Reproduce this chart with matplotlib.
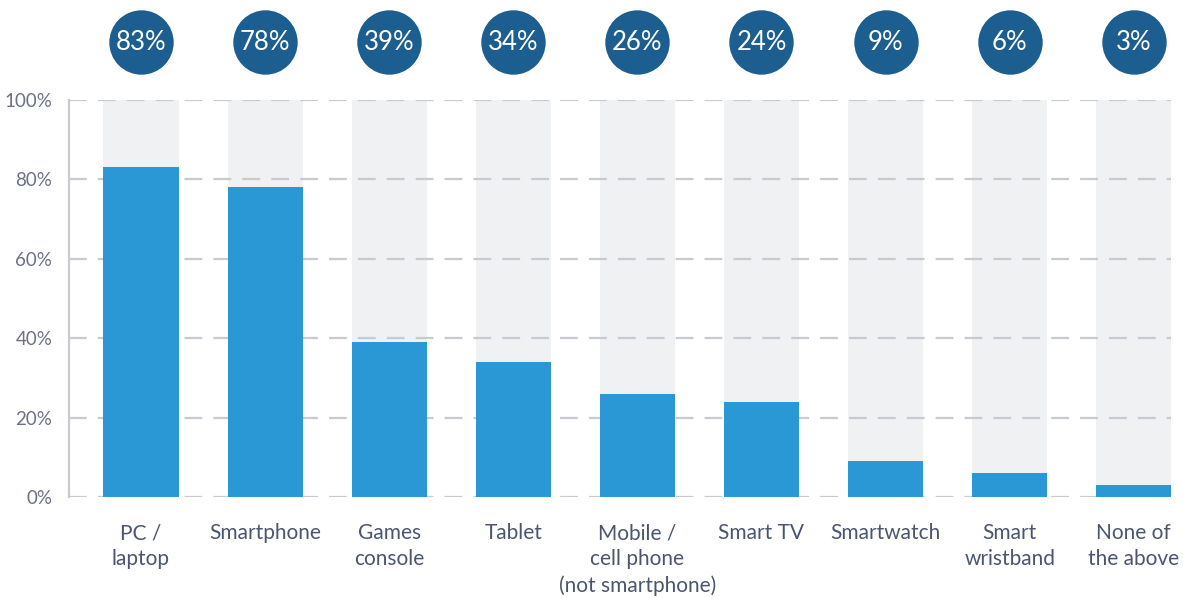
import matplotlib
matplotlib.use("Agg")
import matplotlib.pyplot as plt

# === 데이터 ===
categories = ["PC /\nlaptop", "Smartphone", "Games\nconsole", "Tablet",
              "Mobile /\ncell phone\n(not smartphone)", "Smart TV", "Smartwatch",
              "Smart\nwristband", "None of\nthe above"]
values = [83, 78, 39, 34, 26, 24, 9, 6, 3]
yticks = [0, 20, 40, 60, 80, 100]
ytick_labels = ["0%", "20%", "40%", "60%", "80%", "100%"]

plt.rcParams["font.family"] = ["Lato", "DejaVu Sans"]

fig = plt.figure(figsize=(11.83, 5.98), dpi=100)
ax = fig.add_axes([69 / 1183, 101 / 598, 1102 / 1183, 397 / 598])

x = list(range(len(values)))
w = 0.605
ax.bar(x, [100] * len(values), width=w, color="#f0f1f3", zorder=1)
ax.bar(x, values, width=w, color="#2998d5", zorder=3)

# 점선 그리드
for t in yticks:
    ax.axhline(t, color="#c9c9d1", lw=1.6, dashes=(8, 5), zorder=2)

# 상단 원형 배지
ax.scatter(x, [114.6] * len(values), s=2150, color="#1b5e8f", clip_on=False, zorder=4, linewidths=0)
for xi, v in zip(x, values):
    ax.text(xi, 114.6, f"{v}%", ha="center", va="center", color="white",
            fontsize=18.5, zorder=5, clip_on=False)

ax.set_xlim(-0.58, 8.30)
ax.set_ylim(0, 100)
ax.set_yticks(yticks)
ax.set_yticklabels(ytick_labels, fontsize=13.5, color="#6b7085")
ax.set_xticks(x)
ax.set_xticklabels(categories, fontsize=15, color="#4a5570", linespacing=1.38, va="top")
ax.tick_params(axis="both", length=0)
ax.tick_params(axis="y", pad=12)
ax.tick_params(axis="x", pad=19)

for s in ["top", "right", "bottom"]:
    ax.spines[s].set_visible(False)
ax.spines["left"].set_color("#c9c9d1")
ax.spines["left"].set_linewidth(1.6)
ax.spines["left"].set_zorder(2)

fig.savefig("out.png", dpi=100)
